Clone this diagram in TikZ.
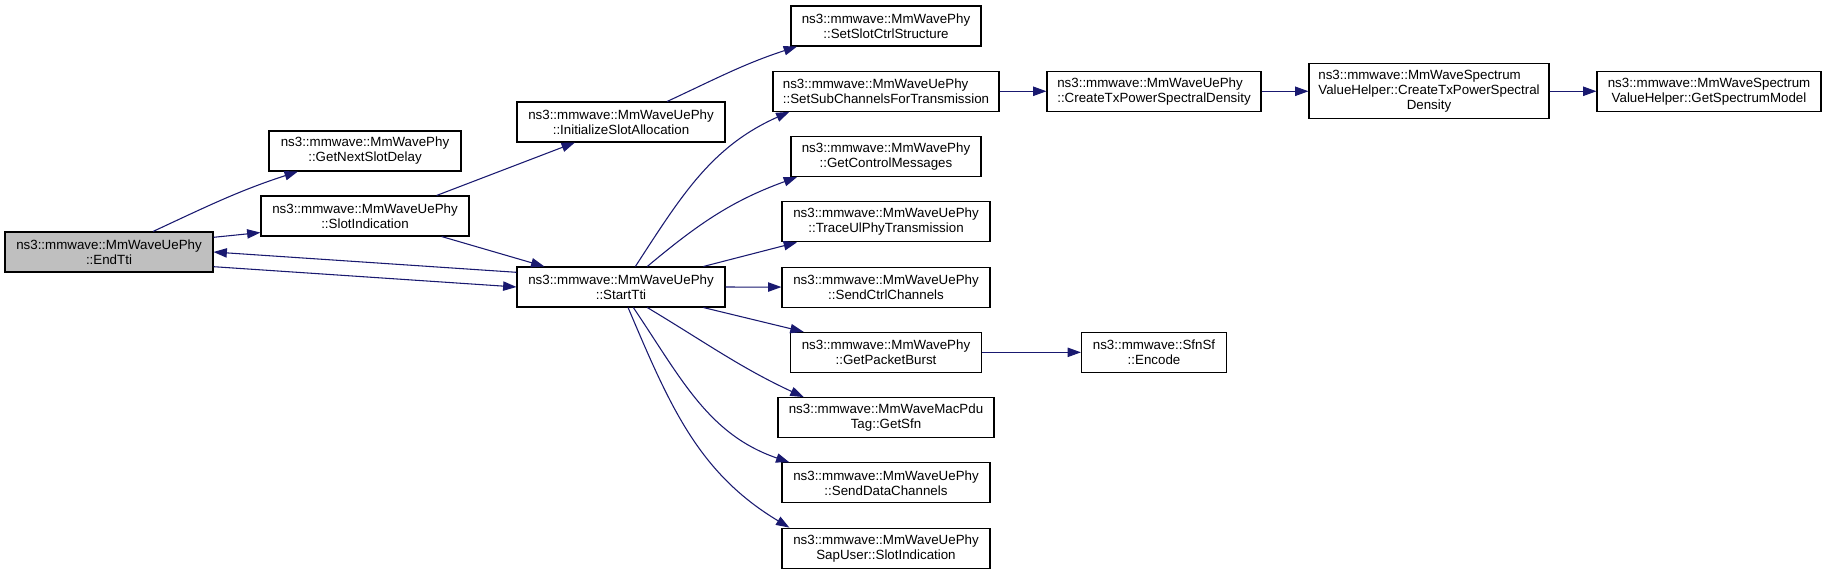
\documentclass[tikz,border=0pt]{standalone}
\usepackage{fontspec}
\setmainfont{Liberation Sans}
\usetikzlibrary{arrows.meta, positioning}
\definecolor{edgeblue}{RGB}{25,25,112}
\definecolor{curgrey}{RGB}{191,191,191}

\begin{document}
\begin{tikzpicture}[x=0.75pt, y=-0.75pt,
  fn/.style={draw, fill=white, line width=0.8pt, align=center, minimum height=30pt, inner sep=2pt, font=\fontsize{10}{11.25}\selectfont},
  arr/.style={-{Triangle[length=10pt, width=7pt]}, draw=edgeblue, line width=0.8pt}
]
\path[use as bounding box, fill=white] (0,0) rectangle (1827,575);
\node[fn, fill=curgrey, minimum width=156pt] (endtti) at (109,252) {ns3::mmwave::MmWaveUePhy\\::EndTti};
\node[fn, minimum width=144pt] (nextdelay) at (365,151) {ns3::mmwave::MmWavePhy\\::GetNextSlotDelay};
\node[fn, minimum width=156pt] (slotind) at (365,216) {ns3::mmwave::MmWaveUePhy\\::SlotIndication};
\node[fn, minimum width=156pt] (initalloc) at (621,122) {ns3::mmwave::MmWaveUePhy\\::InitializeSlotAllocation};
\node[fn, minimum width=156pt] (starttti) at (621,287) {ns3::mmwave::MmWaveUePhy\\::StartTti};
\node[fn, minimum width=142.5pt] (setslot) at (886,26) {ns3::mmwave::MmWavePhy\\::SetSlotCtrlStructure};
\node[fn, minimum width=169.5pt, align=left, below=18.15pt of setslot] (setsub) {ns3::mmwave::MmWaveUePhy\\::SetSubChannelsForTransmission};
\node[fn, minimum width=142.5pt, below=18.15pt of setsub] (ctrlmsg) {ns3::mmwave::MmWavePhy\\::GetControlMessages};
\node[fn, minimum width=156pt, below=18.15pt of ctrlmsg] (traceul) {ns3::mmwave::MmWaveUePhy\\::TraceUlPhyTransmission};
\node[fn, minimum width=156pt, below=18.15pt of traceul] (sendctrl) {ns3::mmwave::MmWaveUePhy\\::SendCtrlChannels};
\node[fn, minimum width=143.25pt, below=18.15pt of sendctrl] (pktburst) {ns3::mmwave::MmWavePhy\\::GetPacketBurst};
\node[fn, minimum width=162pt, below=18.15pt of pktburst] (getsfn) {ns3::mmwave::MmWaveMacPdu\\Tag::GetSfn};
\node[fn, minimum width=156pt, below=18.15pt of getsfn] (senddata) {ns3::mmwave::MmWaveUePhy\\::SendDataChannels};
\node[fn, minimum width=156pt, below=18.15pt of senddata] (sapslot) {ns3::mmwave::MmWaveUePhy\\SapUser::SlotIndication};
\node[fn, minimum width=160.5pt, align=left, right=35.2pt of setsub] (txpsd) {ns3::mmwave::MmWaveUePhy\\::CreateTxPowerSpectralDensity};
\node[fn, minimum width=180pt, minimum height=41.25pt, right=35.2pt of txpsd] (svhpsd) {\begin{tabular}{@{}l@{}}ns3::mmwave::MmWaveSpectrum\\ValueHelper::CreateTxPowerSpectral\\\multicolumn{1}{@{}c@{}}{Density}\end{tabular}};
\node[fn, minimum width=168pt, right=35.2pt of svhpsd] (specmodel) {ns3::mmwave::MmWaveSpectrum\\ValueHelper::GetSpectrumModel};
\node[fn, minimum width=108.75pt, right=74.2pt of pktburst] (encode) {ns3::mmwave::SfnSf\\::Encode};
\draw[arr] (endtti.25) to[out=25, in=198] (nextdelay.197);
\draw[arr] (endtti.8) -- (slotind.189);
\draw[arr] (starttti.172) -- (endtti.east);
\draw[arr] (endtti.-8) -- (starttti.west);
\draw[arr] (slotind.16) -- (initalloc.204);
\draw[arr] (slotind.-15) -- (starttti.165);
\draw[arr] (initalloc.24) to[out=25, in=198] (setslot.193);
\draw[arr] (starttti.55) to[out=57, in=204] (setsub.192);
\draw[arr] (starttti.38) to[out=40, in=200] (ctrlmsg.193);
\draw[arr] (starttti.14) -- (traceul.193);
\draw[arr] (starttti) -- (sendctrl);
\draw[arr] (starttti.-14) -- (pktburst.166);
\draw[arr] (starttti.-38) to[out=-31, in=155] (getsfn.166);
\draw[arr] (starttti.-59) to[out=-56, in=161] (senddata.168);
\draw[arr] (starttti.-71) to[out=-67, in=149] (sapslot.168);
\draw[arr] (setsub) -- (txpsd);
\draw[arr] (txpsd) -- (svhpsd);
\draw[arr] (svhpsd) -- (specmodel);
\draw[arr] (pktburst) -- (encode);
\end{tikzpicture}
\end{document}
